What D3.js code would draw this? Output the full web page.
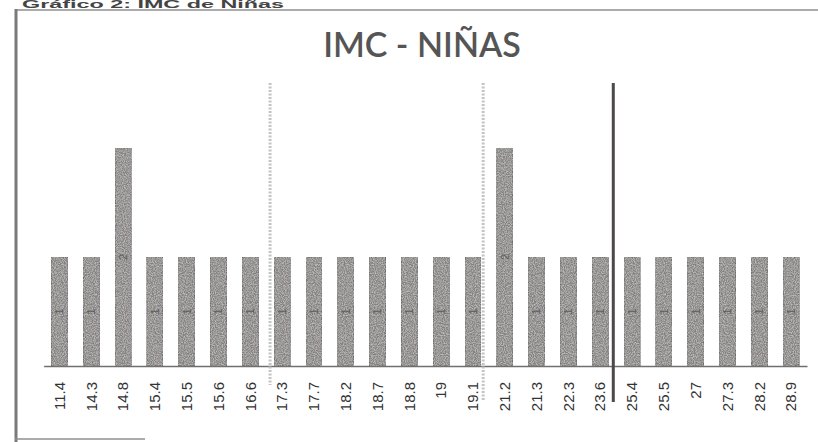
<!DOCTYPE html>
<html>
<head>
<meta charset="utf-8">
<script src="https://cdn.jsdelivr.net/npm/d3@7"></script>
<style>
  html, body { margin: 0; padding: 0; background: #fff; }
  svg { display: block; }
</style>
</head>
<body>
<svg id="chart" width="818" height="442"></svg>
<script>
// ---- Data ----
const categories = ["11.4","14.3","14.8","15.4","15.5","15.6","16.6","17.3","17.7","18.2","18.7","18.8","19","19.1","21.2","21.3","22.3","23.6","25.4","25.5","27","27.3","28.2","28.9"];
const counts     = [1,1,2,1,1,1,1,1,1,1,1,1,1,1,2,1,1,1,1,1,1,1,1,1];
const chartTitle = "IMC - NIÑAS";
const pageCaption = "Gráfico 2: IMC de Niñas";
// hand-drawn reference lines: anchored to a category, offset in steps
const refCats    = ["17.3", "19.1", "23.6"];
const refOffsets = [-0.38, 0.32, 0.41];
const refKinds   = ["light", "light", "dark"];

const data = categories.map((c, i) => ({ cat: c, value: counts[i] }));

const svg = d3.select("#chart");

// texture filter for scanned look
const defs = svg.append("defs");
const f = defs.append("filter").attr("id", "grain").attr("x", 0).attr("y", 0).attr("width", 1).attr("height", 1);
f.append("feTurbulence").attr("type", "fractalNoise").attr("baseFrequency", 0.9).attr("numOctaves", 2).attr("seed", 3).attr("result", "noise");
f.append("feColorMatrix").attr("in", "noise").attr("type", "matrix")
  .attr("values", "0 0 0 0 0.62  0 0 0 0 0.61  0 0 0 0 0.61  0 0 0 1.6 -0.55").attr("result", "speck");
f.append("feComposite").attr("in", "speck").attr("in2", "SourceGraphic").attr("operator", "atop").attr("result", "sp");
f.append("feMerge").call(m => { m.append("feMergeNode").attr("in", "SourceGraphic"); m.append("feMergeNode").attr("in", "sp"); });

// ---- Frame ----
svg.append("text")
  .attr("x", 22).attr("y", 8)
  .attr("font-family", "Liberation Sans, Arial, sans-serif")
  .attr("font-weight", "bold").attr("font-size", 10)
  .attr("textLength", 262).attr("lengthAdjust", "spacingAndGlyphs")
  .attr("fill", "#444")
  .text(pageCaption);
svg.append("line").attr("x1", 15).attr("x2", 818).attr("y1", 10).attr("y2", 10)
  .attr("stroke", "#8f8f8f").attr("stroke-width", 1.6);
svg.append("line").attr("x1", 16).attr("x2", 16).attr("y1", 9).attr("y2", 442)
  .attr("stroke", "#7a7a7a").attr("stroke-width", 3);
svg.append("line").attr("x1", 15).attr("x2", 145).attr("y1", 439).attr("y2", 439)
  .attr("stroke", "#8f8f8f").attr("stroke-width", 1.6);

// ---- Scales ----
const x = d3.scaleBand().domain(categories).range([43.6, 807]).paddingInner(0.5).paddingOuter(0.25);
const y = d3.scaleLinear().domain([0, 2]).range([366, 148]);

// ---- Title ----
svg.append("text")
  .attr("x", 422).attr("y", 57)
  .attr("text-anchor", "middle")
  .attr("font-family", "Lato, 'Open Sans', sans-serif")
  .attr("font-weight", 600)
  .attr("font-size", 34)
  .attr("fill", "#555")
  .text(chartTitle);

// ---- Bars ----
svg.append("g").selectAll("rect").data(data).join("rect")
  .attr("x", d => x(d.cat))
  .attr("y", d => y(d.value))
  .attr("width", x.bandwidth())
  .attr("height", d => y(0) - y(d.value))
  .attr("fill", "#858181")
  .attr("stroke", "#6e6a6a").attr("stroke-width", 0.8)
  .attr("filter", "url(#grain)");

// data labels inside bars
svg.append("g").selectAll("text").data(data).join("text")
  .attr("transform", d => `translate(${x(d.cat) + x.bandwidth() / 2},${(y(d.value) + y(0)) / 2}) rotate(-90)`)
  .attr("text-anchor", "middle").attr("dy", "0.35em")
  .attr("font-family", "Liberation Sans, Arial, sans-serif")
  .attr("font-size", 11).attr("fill", "#5f5b5b")
  .text(d => d.value);

// ---- Axis ----
const xAxis = d3.axisBottom(x).tickSize(0).tickPadding(0);
const ax = svg.append("g").attr("transform", `translate(0,${y(0)})`).call(xAxis);
ax.select(".domain").attr("stroke", "#6f6f6f").attr("stroke-width", 1.4);
ax.selectAll(".tick text")
  .attr("transform", "translate(0,16) rotate(-90)")
  .attr("text-anchor", "end")
  .attr("x", 0).attr("y", 0).attr("dy", "0.35em")
  .attr("font-family", "Liberation Sans, Arial, sans-serif")
  .attr("font-size", 15)
  .attr("fill", "#333");

// ---- Reference lines ----
refCats.forEach((c, i) => {
  const cx = x(c) + x.bandwidth() / 2 + refOffsets[i] * x.step();
  const kind = refKinds[i];
  const line = svg.append("line")
    .attr("x1", cx).attr("x2", cx).attr("y1", 83)
    .attr("y2", kind === "dark" ? 402 : (i === 0 ? 385 : 400));
  if (kind === "dark") {
    line.attr("stroke", "#4d4949").attr("stroke-width", 3);
  } else {
    line.attr("stroke", "#c4c4c4").attr("stroke-width", 3).attr("stroke-dasharray", "2,1.5");
  }
});
</script>
</body>
</html>
